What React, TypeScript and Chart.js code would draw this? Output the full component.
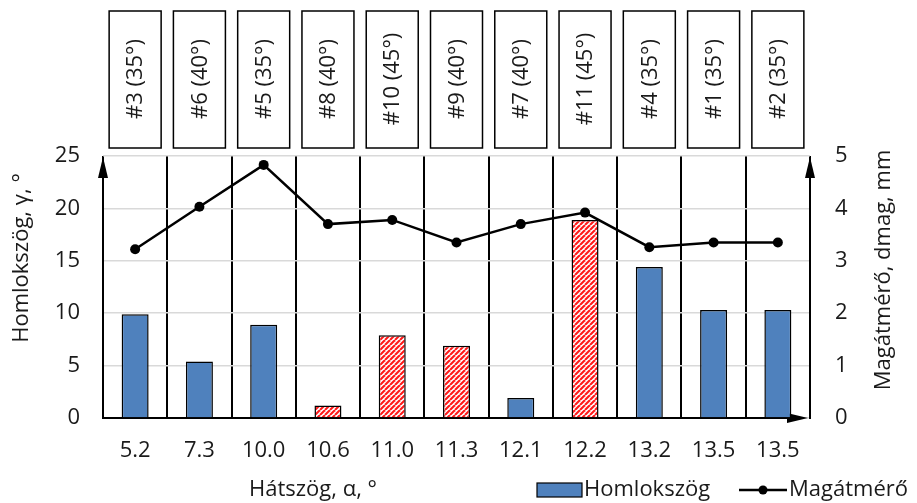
import React, { useEffect, useRef } from "react";
import { Chart, registerables } from "chart.js";

Chart.register(...registerables);

const categories = ["5.2", "7.3", "10.0", "10.6", "11.0", "11.3", "12.1", "12.2", "13.2", "13.5", "13.5"];
const homlokszog = [9.9, 5.4, 8.9, 1.2, 7.9, 6.9, 1.9, 18.9, 14.4, 10.3, 10.3];
const magatmero = [3.22, 4.03, 4.83, 3.7, 3.78, 3.35, 3.7, 3.92, 3.26, 3.35, 3.35];
const toolLabels = ["#3 (35°)", "#6 (40°)", "#5 (35°)", "#8 (40°)", "#10 (45°)", "#9 (40°)", "#7 (40°)", "#11 (45°)", "#4 (35°)", "#1 (35°)", "#2 (35°)"];
const hatched = [false, false, false, true, true, true, false, true, false, false, false];
const leftTicks = [0, 5, 10, 15, 20, 25];
const rightTicks = [0, 1, 2, 3, 4, 5];

const FONT = "'Open Sans', Carlito, Lato, sans-serif";
const FS = 22;
const TXT = "#1a1a1a";
const BLUE = "#4f81bd";

function makeHatch(): CanvasPattern | string {
  const s = 5;
  const c = document.createElement("canvas");
  c.width = s;
  c.height = s;
  const g = c.getContext("2d");
  if (!g) return "#ff6060";
  g.fillStyle = "#ffffff";
  g.fillRect(0, 0, s, s);
  g.strokeStyle = "#ff1a1a";
  g.lineWidth = 2.1;
  for (let k = -1; k <= 1; k++) {
    g.beginPath();
    g.moveTo(k * s, s);
    g.lineTo(k * s + s, 0);
    g.stroke();
  }
  return g.createPattern(c, "repeat") || "#ff6060";
}

function arrowUp(ctx: CanvasRenderingContext2D, x: number, tipY: number) {
  ctx.beginPath();
  ctx.moveTo(x, tipY);
  ctx.lineTo(x - 5, tipY + 21);
  ctx.lineTo(x + 5, tipY + 21);
  ctx.closePath();
  ctx.fill();
}

const decorPlugin = {
  id: "decor",
  beforeDatasetsDraw(chart: any) {
    const ctx: CanvasRenderingContext2D = chart.ctx;
    const { left, right, top, bottom } = chart.chartArea;
    ctx.save();
    ctx.strokeStyle = "#000";
    ctx.fillStyle = "#000";
    ctx.lineWidth = 2;
    ctx.beginPath();
    ctx.moveTo(left, bottom + 1);
    ctx.lineTo(left, top + 10);
    ctx.stroke();
    arrowUp(ctx, left, top + 1);
    ctx.beginPath();
    ctx.moveTo(right, bottom + 1);
    ctx.lineTo(right, top + 10);
    ctx.stroke();
    arrowUp(ctx, right, top + 1);
    ctx.beginPath();
    ctx.moveTo(left, bottom);
    ctx.lineTo(right - 10, bottom);
    ctx.stroke();
    ctx.beginPath();
    ctx.moveTo(right - 2, bottom);
    ctx.lineTo(right - 23, bottom - 5);
    ctx.lineTo(right - 23, bottom + 5);
    ctx.closePath();
    ctx.fill();
    ctx.restore();
  },
  afterDraw(chart: any) {
    const ctx: CanvasRenderingContext2D = chart.ctx;
    const xs = chart.scales.x;
    ctx.save();
    ctx.font = `${FS}px ${FONT}`;
    toolLabels.forEach((lab, i) => {
      const cx = xs.getPixelForValue(i);
      ctx.fillStyle = "#fff";
      ctx.fillRect(cx - 26, 11, 52, 137);
      ctx.strokeStyle = "#000";
      ctx.lineWidth = 1.5;
      ctx.strokeRect(cx - 26, 11, 52, 137);
      ctx.save();
      ctx.translate(cx + 1, 79);
      ctx.rotate(-Math.PI / 2);
      ctx.fillStyle = TXT;
      ctx.textAlign = "center";
      ctx.textBaseline = "middle";
      ctx.fillText(lab, 0, 0);
      ctx.restore();
    });
    ctx.fillStyle = TXT;
    ctx.textAlign = "center";
    ctx.textBaseline = "middle";
    ctx.save();
    ctx.translate(22, 258);
    ctx.rotate(-Math.PI / 2);
    ctx.fillText("Homlokszög, γ, °", 0, 0);
    ctx.restore();
    ctx.save();
    ctx.translate(884, 270);
    ctx.rotate(-Math.PI / 2);
    ctx.fillText("Magátmérő, dmag, mm", 0, 0);
    ctx.restore();
    ctx.fillText("Hátszög, α, °", 313, 490);
    const ds = chart.data.datasets;
    ctx.textAlign = "left";
    ctx.fillStyle = BLUE;
    ctx.fillRect(537, 483, 45, 14);
    ctx.strokeStyle = "#000";
    ctx.lineWidth = 1.2;
    ctx.strokeRect(537, 483, 45, 14);
    ctx.fillStyle = TXT;
    ctx.fillText(ds[0].label, 584, 490);
    ctx.strokeStyle = "#000";
    ctx.lineWidth = 2.5;
    ctx.beginPath();
    ctx.moveTo(739, 490);
    ctx.lineTo(787, 490);
    ctx.stroke();
    ctx.fillStyle = "#000";
    ctx.beginPath();
    ctx.arc(763, 490, 4.5, 0, Math.PI * 2);
    ctx.fill();
    ctx.fillStyle = TXT;
    ctx.fillText(ds[1].label, 789, 490);
    ctx.restore();
  },
};

export default function App() {
  const ref = useRef<HTMLCanvasElement | null>(null);
  useEffect(() => {
    if (!ref.current) return;
    const hatch = makeHatch();
    const chart = new Chart(ref.current, {
      type: "bar",
      data: {
        labels: categories,
        datasets: [
          {
            type: "bar",
            label: "Homlokszög",
            data: homlokszog,
            yAxisID: "y",
            backgroundColor: hatched.map((h) => (h ? hatch : BLUE)) as any,
            borderColor: "#000",
            borderWidth: 1.5,
            categoryPercentage: 1,
            barPercentage: 0.42,
            order: 2,
          },
          {
            type: "line",
            label: "Magátmérő",
            data: magatmero,
            yAxisID: "y1",
            borderColor: "#000",
            backgroundColor: "#000",
            borderWidth: 2.5,
            pointRadius: 5,
            pointBorderWidth: 0,
            pointBackgroundColor: "#000",
            tension: 0,
            order: 1,
          } as any,
        ],
      },
      options: {
        responsive: false,
        animation: false,
        events: [],
        layout: { padding: { top: 156, left: 0, right: 0, bottom: 0 } },
        plugins: {
          legend: { display: false },
          tooltip: { enabled: false },
          title: { display: false },
        },
        scales: {
          x: {
            type: "category",
            offset: true,
            grid: { display: true, offset: true, color: "#000", lineWidth: 2, drawTicks: false },
            border: { display: false },
            ticks: { font: { family: FONT, size: FS }, color: TXT, padding: 20, maxRotation: 0, autoSkip: false },
            afterFit: (s: any) => {
              s.height = 85;
            },
          },
          y: {
            type: "linear",
            position: "left",
            min: 0,
            max: 25,
            afterBuildTicks: (s: any) => {
              s.ticks = leftTicks.map((v) => ({ value: v }));
            },
            grid: { color: "#d9d9d9", lineWidth: 1.5, drawTicks: false },
            border: { display: false },
            ticks: { font: { family: FONT, size: FS }, color: TXT, padding: 23 },
            afterFit: (s: any) => {
              s.width = 103;
            },
          },
          y1: {
            type: "linear",
            position: "right",
            min: 0,
            max: 5,
            afterBuildTicks: (s: any) => {
              s.ticks = rightTicks.map((v) => ({ value: v }));
            },
            grid: { display: false, drawTicks: false },
            border: { display: false },
            ticks: { font: { family: FONT, size: FS }, color: TXT, padding: 25 },
            afterFit: (s: any) => {
              s.width = 107;
            },
          },
        },
      },
      plugins: [decorPlugin],
    });
    return () => chart.destroy();
  }, []);
  return (
    <div style={{ position: "absolute", left: 0, top: 0, width: 917, height: 503, background: "#fff" }}>
      <canvas ref={ref} width={917} height={503} style={{ display: "block" }} />
    </div>
  );
}
